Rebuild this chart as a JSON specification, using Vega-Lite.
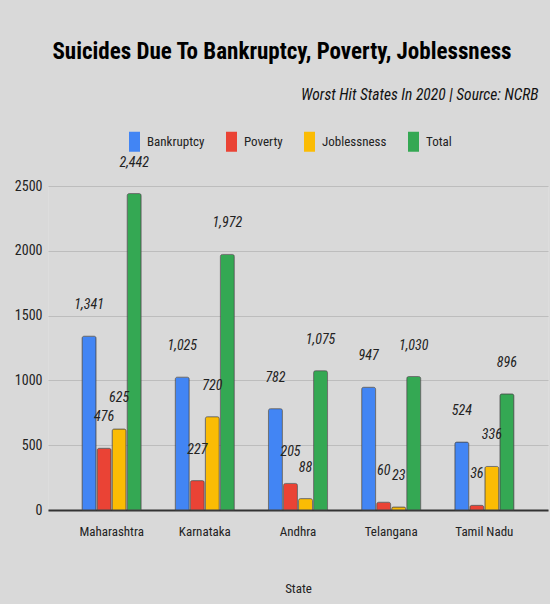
{
  "$schema": "https://vega.github.io/schema/vega-lite/v6.json",
  "width": 500,
  "height": 324,
  "autosize": {"type": "none"},
  "padding": {"left": 48, "top": 186, "right": 2, "bottom": 94},
  "background": "#d9d9d9",
  "title": {
    "text": "Suicides Due To Bankruptcy, Poverty, Joblessness",
    "anchor": "middle",
    "frame": "group",
    "dx": -16,
    "offset": 23,
    "font": "Roboto Condensed, Liberation Sans Narrow, Arial Narrow, sans-serif",
    "fontSize": 23,
    "fontWeight": "bold",
    "color": "#000000"
  },
  "data": {
    "values": [
      {"state": "Maharashtra", "series": "Bankruptcy", "value": 1341},
      {"state": "Maharashtra", "series": "Poverty", "value": 476},
      {"state": "Maharashtra", "series": "Joblessness", "value": 625},
      {"state": "Maharashtra", "series": "Total", "value": 2442},
      {"state": "Karnataka", "series": "Bankruptcy", "value": 1025},
      {"state": "Karnataka", "series": "Poverty", "value": 227},
      {"state": "Karnataka", "series": "Joblessness", "value": 720},
      {"state": "Karnataka", "series": "Total", "value": 1972},
      {"state": "Andhra", "series": "Bankruptcy", "value": 782},
      {"state": "Andhra", "series": "Poverty", "value": 205},
      {"state": "Andhra", "series": "Joblessness", "value": 88},
      {"state": "Andhra", "series": "Total", "value": 1075},
      {"state": "Telangana", "series": "Bankruptcy", "value": 947},
      {"state": "Telangana", "series": "Poverty", "value": 60},
      {"state": "Telangana", "series": "Joblessness", "value": 23},
      {"state": "Telangana", "series": "Total", "value": 1030},
      {"state": "Tamil Nadu", "series": "Bankruptcy", "value": 524},
      {"state": "Tamil Nadu", "series": "Poverty", "value": 36},
      {"state": "Tamil Nadu", "series": "Joblessness", "value": 336},
      {"state": "Tamil Nadu", "series": "Total", "value": 896}
    ]
  },
  "encoding": {
    "x": {
      "field": "state",
      "type": "nominal",
      "sort": null,
      "title": "State",
      "scale": {"paddingInner": 0.366, "paddingOuter": 0.366},
      "axis": {
        "title": "State",
        "domainColor": "#333333",
        "domainWidth": 2,
        "ticks": false,
        "labelAngle": 0,
        "labelPadding": 15,
        "labelFont": "Roboto Condensed, Liberation Sans Narrow, Arial Narrow, sans-serif",
        "labelFontSize": 13,
        "labelColor": "#222222",
        "titleFont": "Roboto Condensed, Liberation Sans Narrow, Arial Narrow, sans-serif",
        "titleFontSize": 13,
        "titleFontWeight": "normal",
        "titleColor": "#222222",
        "titlePadding": 44
      }
    },
    "y": {
      "field": "value",
      "type": "quantitative",
      "title": "Worst Hit States In 2020 | Source: NCRB",
      "scale": {"domain": [0, 2500], "nice": false},
      "axis": {
        "title": "Worst Hit States In 2020 | Source: NCRB",
        "titleAngle": 0,
        "titleX": 490,
        "titleY": -92,
        "titleAlign": "right",
        "titleBaseline": "middle",
        "titleFont": "Roboto Condensed, Liberation Sans Narrow, Arial Narrow, sans-serif",
        "titleFontStyle": "italic",
        "titleFontWeight": "normal",
        "titleFontSize": 15.5,
        "titleColor": "#111111",
        "values": [0, 500, 1000, 1500, 2000, 2500],
        "format": "d",
        "domain": false,
        "ticks": false,
        "gridColor": "#bdbdbd",
        "gridWidth": 1,
        "labelPadding": 6,
        "labelFont": "Roboto Condensed, Liberation Sans Narrow, Arial Narrow, sans-serif",
        "labelFontSize": 14,
        "labelColor": "#222222"
      }
    }
  },
  "layer": [
    {
      "mark": {
        "type": "bar",
        "stroke": "#4a4a4a",
        "strokeWidth": 0.8,
        "strokeOpacity": 0.8,
        "cornerRadiusTopLeft": 2,
        "cornerRadiusTopRight": 2
      },
      "encoding": {
        "xOffset": {
          "field": "series",
          "type": "nominal",
          "sort": ["Bankruptcy", "Poverty", "Joblessness", "Total"],
          "scale": {"paddingInner": 0.07}
        },
        "color": {
          "field": "series",
          "type": "nominal",
          "sort": ["Bankruptcy", "Poverty", "Joblessness", "Total"],
          "scale": {
            "domain": ["Bankruptcy", "Poverty", "Joblessness", "Total"],
            "range": ["#4285F4", "#EA4335", "#FBBC04", "#34A853"]
          },
          "legend": {
            "orient": "none",
            "legendX": 80,
            "legendY": -51,
            "direction": "horizontal",
            "title": null,
            "symbolType": "M-1.1,-2H1.1V2H-1.1Z",
            "symbolSize": 100,
            "symbolStrokeWidth": 0,
            "symbolOpacity": 1,
            "labelFont": "Roboto Condensed, Liberation Sans Narrow, Arial Narrow, sans-serif",
            "labelFontSize": 13,
            "labelColor": "#222222",
            "labelOffset": 6,
            "columnPadding": 20
          }
        }
      }
    },
    {
      "mark": {
        "type": "text",
        "dy": -31,
        "baseline": "middle",
        "fontStyle": "italic",
        "font": "Roboto Condensed, Liberation Sans Narrow, Arial Narrow, sans-serif",
        "fontSize": 14,
        "color": "#222222"
      },
      "encoding": {
        "xOffset": {
          "field": "series",
          "type": "nominal",
          "sort": ["Bankruptcy", "Poverty", "Joblessness", "Total"]
        },
        "text": {"field": "value", "type": "quantitative", "format": ","}
      }
    }
  ]
}
